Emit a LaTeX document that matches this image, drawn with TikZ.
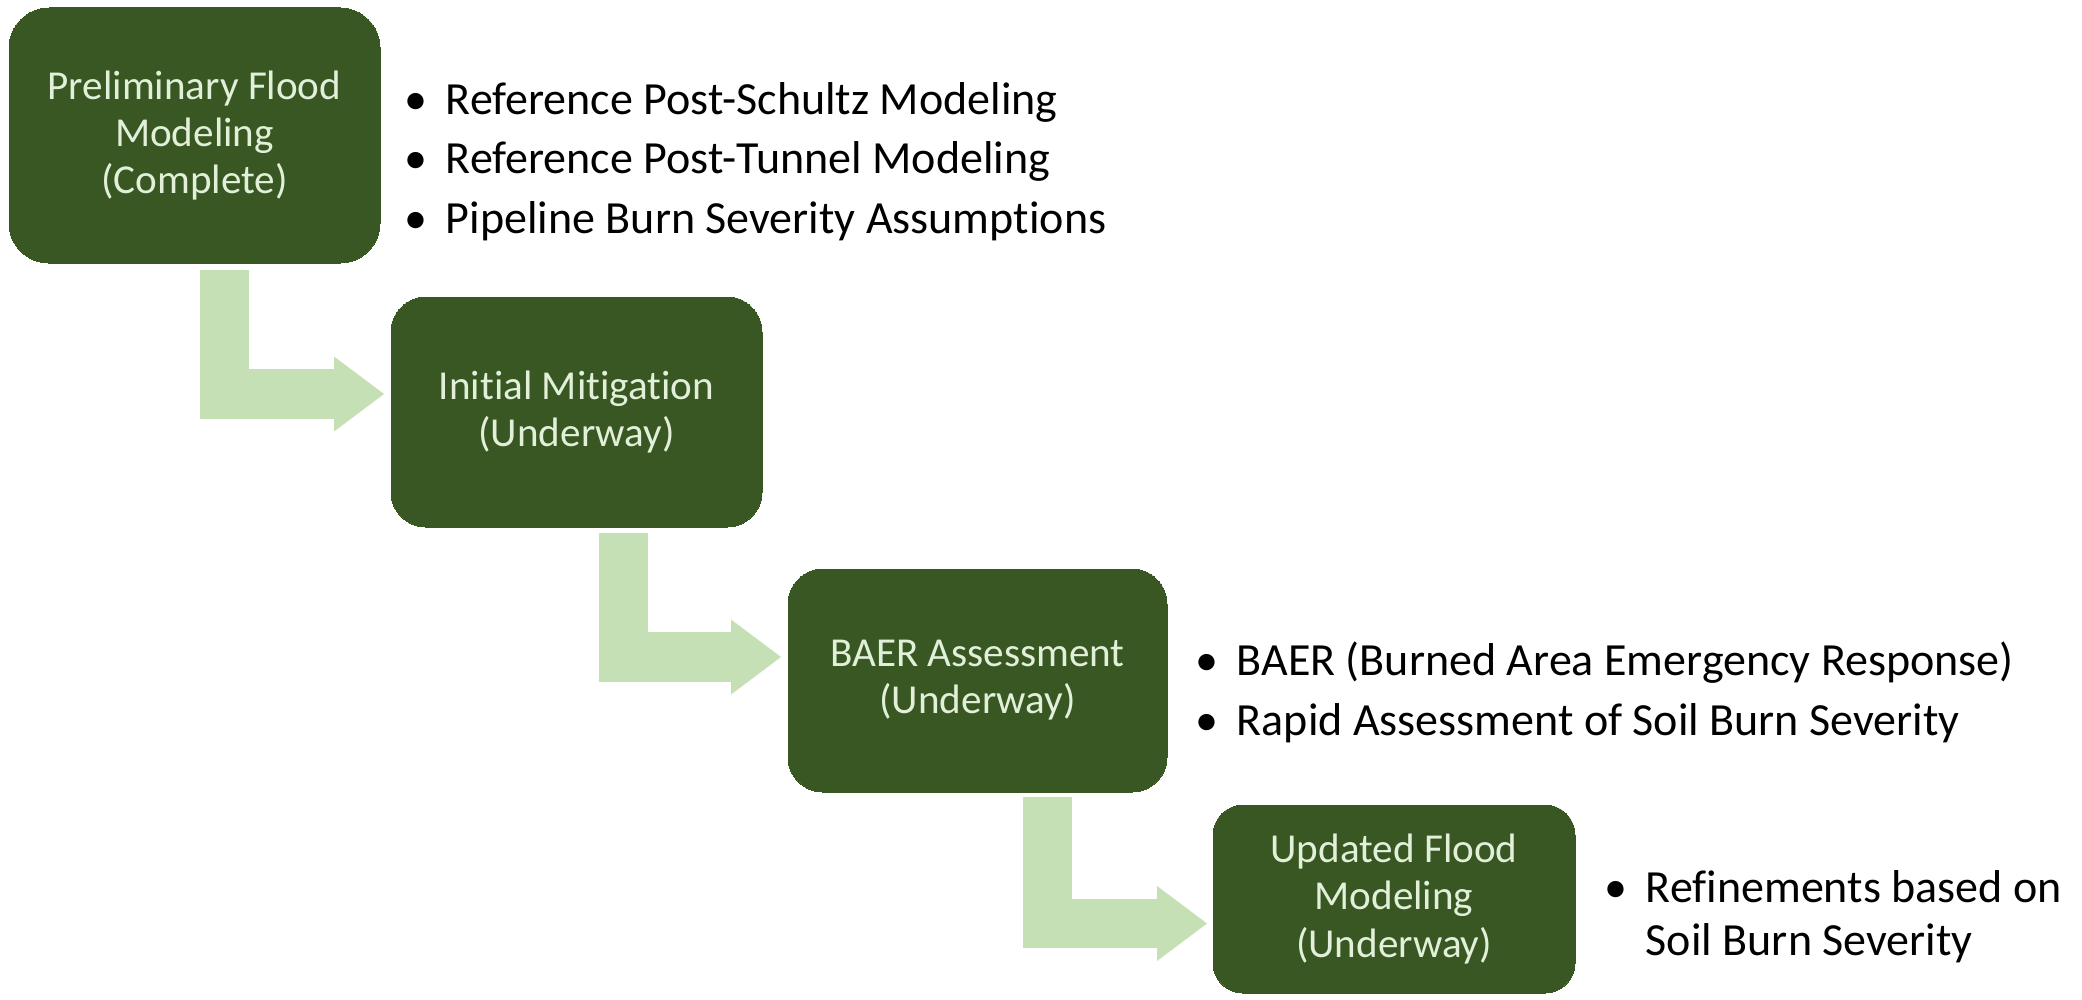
\documentclass[tikz,border=0pt]{standalone}
\usepackage{fontspec}
\setmainfont{Carlito}[Ligatures=NoCommon]
\usepackage{tkz-graph}
\usetikzlibrary{arrows.meta,calc}

\definecolor{boxgreen}{HTML}{385723}
\definecolor{boxtext}{HTML}{E2F0D9}
\definecolor{arrowgreen}{HTML}{C5E0B4}

\newcommand{\bul}{\makebox[11.7pt][l]{\textbullet}}

\begin{document}
\begin{tikzpicture}
  \tikzset{boxtxt/.style    = {align=center, text=boxtext, inner sep=0pt,
                               font=\fontsize{11.7}{13.4}\selectfont},
           listtxt/.style   = {align=left, anchor=base west, inner sep=0pt,
                               font=\fontsize{13.1}{16.8}\selectfont},
           blockarrow/.style = {draw=arrowgreen, line width=14.2pt, line join=miter,
                               -{Triangle[width=21.3pt, length=14.2pt, line width=0pt]}}}
  \useasboundingbox (0,0) rectangle (20.82,-9.99);

%part 1
\SetVertexNormal[Shape = rectangle, FillColor = boxgreen, LineColor = boxgreen, LineWidth = 0pt]
\tikzset{VertexStyle/.append style={boxtxt, rounded corners=4mm,
                                    minimum width=3.71cm, minimum height=2.55cm}}
\Vertex[x=1.945, y=-1.355, L={Preliminary Flood\\Modeling\\(Complete)}]{P1}

%part 2
\SetVertexNormal[Shape = rectangle, FillColor = boxgreen, LineColor = boxgreen, LineWidth = 0pt]
\tikzset{VertexStyle/.append style={boxtxt, rounded corners=3.5mm,
                                    minimum width=3.71cm, minimum height=2.30cm}}
\Vertex[x=5.765, y=-4.12, L={Initial Mitigation\\(Underway)}]{M2}

%part 3
\SetVertexNormal[Shape = rectangle, FillColor = boxgreen, LineColor = boxgreen, LineWidth = 0pt]
\tikzset{VertexStyle/.append style={boxtxt, rounded corners=3.5mm,
                                    minimum width=3.79cm, minimum height=2.23cm}}
\Vertex[x=9.775, y=-6.805, L={BAER Assessment\\(Underway)}]{B3}

% part 4
\SetVertexNormal[Shape = rectangle, FillColor = boxgreen, LineColor = boxgreen, LineWidth = 0pt]
\tikzset{VertexStyle/.append style={boxtxt, rounded corners=3mm,
                                    minimum width=3.62cm, minimum height=1.88cm}}
\Vertex[x=13.94, y=-8.99, L={Updated Flood\\Modeling\\(Underway)}]{U4}

% lists (base = last line)
\node[listtxt] (L1) at (4.04,-2.33) {\bul Reference Post-Schultz Modeling\\
                                      \bul Reference Post-Tunnel Modeling\\
                                      \bul Pipeline Burn Severity Assumptions};
\node[listtxt] (L2) at (11.95,-7.35) {\bul BAER (Burned Area Emergency Response)\\
                                       \bul Rapid Assessment of Soil Burn Severity};
\node[listtxt, font=\fontsize{13.1}{14.8}\selectfont] (L4) at (16.04,-9.55)
     {\bul Refinements based on\\ \hspace*{11.7pt}Soil Burn Severity};

% arrows
\draw[blockarrow] ($(P1.south)+(0.30,-0.07)$) |- ($(M2.west)+(-0.07,0.18)$);
\draw[blockarrow] ($(M2.south)+(0.47,-0.06)$) |- ($(B3.west)+(-0.07,0.235)$);
\draw[blockarrow] ($(B3.south)+(0.70,-0.05)$) |- ($(U4.west)+(-0.06,-0.245)$);

\end{tikzpicture}
\end{document}
